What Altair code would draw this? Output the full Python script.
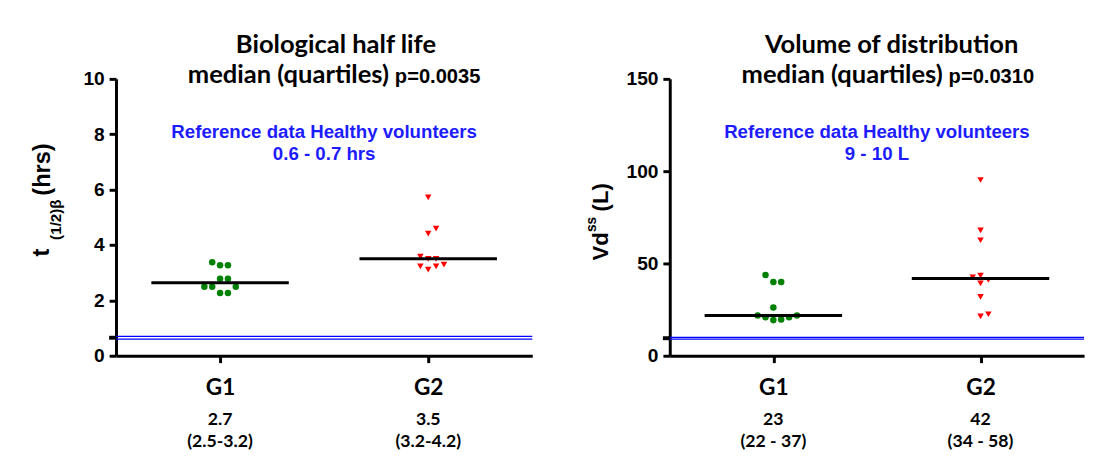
import altair as alt
import pandas as pd
import numpy as np

# ---------------- data ----------------
groups = ["G1", "G2"]

# Panel 1: biological half life (hrs)
hl_g1 = [3.38, 3.27, 3.27, 2.78, 2.78, 2.49, 2.49, 2.49, 2.27, 2.27]
hl_g2 = [5.72, 4.59, 4.41, 3.58, 3.50, 3.50, 3.29, 3.23, 3.23, 3.11]
hl_ref = [0.6, 0.7]
hl_med_lbl = ["2.7", "3.5"]
hl_q_lbl = ["(2.5-3.2)", "(3.2-4.2)"]

# Panel 2: volume of distribution (L)
vd_g1 = [43.8, 39.9, 39.9, 26.1, 21.8, 21.8, 20.9, 20.9, 19.7, 19.3]
vd_g2 = [95.2, 67.9, 62.6, 43.4, 42.5, 41.1, 39.2, 31.9, 22.5, 21.3]
vd_ref = [9, 10]
vd_med_lbl = ["23", "42"]
vd_q_lbl = ["(22 - 37)", "(34 - 58)"]

H = 282
SANS = "Liberation Sans"
CAL = "Lato"


def beeswarm(values, px_per_unit, px_per_x, step=8.0, diam=7.5):
    """simple deterministic beeswarm: returns x offsets in data units"""
    order = np.argsort(values, kind="stable")
    placed = []
    offs = [0.0] * len(values)
    for i in order:
        y = values[i] * px_per_unit
        cands = [0.0]
        for m in range(1, 10):
            cands += [m * step, -m * step]
        for c in cands:
            if all((c - px) ** 2 + (y - py) ** 2 >= diam ** 2 for px, py in placed):
                placed.append((c, y))
                offs[i] = c / px_per_x
                break
    return offs


def panel(g1, g2, ref, ymax, yvals, W, med_lbl, q_lbl, title1, title2, pval,
          ref_txt, split, ytitle_parts):
    ppu = H / ymax
    ppx = W / 4.0
    rows = []
    for gi, (g, vals) in enumerate(zip(groups, [g1, g2])):
        pos = 1 + 2 * gi
        offs = beeswarm(vals, ppu, ppx)
        for v, o in zip(vals, offs):
            rows.append({"group": g, "pos": pos, "xp": pos + o, "value": v})
    df = pd.DataFrame(rows)
    xs = alt.Scale(domain=[0, 4], nice=False, zero=False)
    ys = alt.Scale(domain=[0, ymax], nice=False)

    xaxis = alt.Axis(values=[1, 3], labelExpr="datum.value == 1 ? 'G1' : 'G2'",
                     title=None, grid=False, tickSize=7, tickWidth=3, tickColor="black",
                     domainWidth=3, domainColor="black", labelFont=CAL,
                     labelFontWeight="bold", labelFontSize=23, labelColor="black",
                     labelPadding=14)
    yaxis = alt.Axis(values=yvals, title=None, grid=False, tickSize=7, tickWidth=3,
                     tickColor="black", domainWidth=3, domainColor="black",
                     labelFont=SANS, labelFontWeight="bold", labelFontSize=19.5,
                     labelColor="black", labelPadding=5)

    refdf = pd.DataFrame({"r": ref})
    ref_rules = alt.Chart(refdf).mark_rule(color="#0000ff", strokeWidth=1.2).encode(
        y=alt.Y("r:Q", scale=ys), x=alt.value(0), x2=alt.value(W))
    ref_mark = alt.Chart(refdf).mark_rule(color="black", strokeWidth=4).encode(
        y=alt.Y("mean(r):Q", scale=ys), x=alt.value(-7), x2=alt.value(0))

    pts = alt.Chart(df).mark_point(filled=True, size=44, opacity=1).encode(
        x=alt.X("xp:Q", scale=xs, axis=xaxis),
        y=alt.Y("value:Q", scale=ys, axis=yaxis),
        color=alt.Color("group:N", scale=alt.Scale(domain=groups, range=["#008000", "#ff0000"]), legend=None),
        shape=alt.Shape("group:N", scale=alt.Scale(domain=groups, range=["circle", "triangle-down"]), legend=None),
    )
    med = alt.Chart(df).mark_tick(orient="horizontal", size=140, thickness=3, color="black").encode(
        x=alt.X("pos:Q", scale=xs), y=alt.Y("median(value):Q", scale=ys))

    sdf = pd.DataFrame({"pos": [1, 3], "m": med_lbl, "q": q_lbl})
    s1 = alt.Chart(sdf).mark_text(font=CAL, fontWeight="bold", fontSize=18, color="black",
                                  baseline="middle").encode(
        x=alt.X("pos:Q", scale=xs), y=alt.value(H + 66), text="m:N")
    s2 = alt.Chart(sdf).mark_text(font=CAL, fontWeight="bold", fontSize=18, color="black",
                                  baseline="middle").encode(
        x=alt.X("pos:Q", scale=xs), y=alt.value(H + 88), text="q:N")

    blue = "#1c1cff"
    r1 = alt.Chart().mark_text(text=ref_txt[0], font=SANS, fontWeight="bold", fontSize=19,
                               color=blue, baseline="middle").encode(
        x=alt.value(W / 2), y=alt.value(54))
    r2 = alt.Chart().mark_text(text=ref_txt[1], font=SANS, fontWeight="bold", fontSize=19,
                               color=blue, baseline="middle").encode(
        x=alt.value(W / 2), y=alt.value(77))

    t1 = alt.Chart().mark_text(text=title1, font=CAL, fontWeight="bold", fontSize=26,
                               color="black", baseline="middle").encode(
        x=alt.value(split[0]), y=alt.value(-34))
    t2 = alt.Chart().mark_text(text=title2, font=CAL, fontWeight="bold", fontSize=26,
                               color="black", baseline="middle", align="right").encode(
        x=alt.value(split[1]), y=alt.value(-4))
    t3 = alt.Chart().mark_text(text=pval, font=SANS, fontWeight="bold", fontSize=20.5,
                               color="black", baseline="middle", align="left").encode(
        x=alt.value(split[1] + 6), y=alt.value(-2))

    yt = []
    for txt, fs, xb, ystart in ytitle_parts:
        yt.append(alt.Chart().mark_text(text=txt, font=SANS, fontWeight="bold", fontSize=fs,
                                        color="black", angle=270, align="left",
                                        baseline="alphabetic").encode(
            x=alt.value(xb), y=alt.value(ystart)))

    return alt.layer(ref_rules, pts, med, ref_mark, s1, s2, r1, r2, t1, t2, t3, *yt).properties(
        width=W, height=H)


left = panel(hl_g1, hl_g2, hl_ref, 10, [0, 2, 4, 6, 8, 10], 424, hl_med_lbl, hl_q_lbl,
             "Biological half life", "median (quartiles)", "p=0.0035",
             ["Reference data Healthy volunteers", "0.6 - 0.7 hrs"], (224, 278),
             [("t", 24, -68, 181), ("(1/2)β", 15.5, -56, 164), ("(hrs)", 24, -67, 119)])
right = panel(vd_g1, vd_g2, vd_ref, 150, [0, 50, 100, 150], 422, vd_med_lbl, vd_q_lbl,
              "Volume of distribution", "median (quartiles)", "p=0.0310",
              ["Reference data Healthy volunteers", "9 - 10 L"], (226, 278),
              [("Vd", 22.5, -63, 185), ("ss", 14, -75, 156), ("(L)", 22.5, -63, 135)])

chart = alt.hconcat(left, right, spacing=53).properties(
    padding={"left": 23, "top": 21, "right": 5, "bottom": 5}
).configure_view(stroke=None)

chart.save("out.html", embed_options={"renderer": "svg", "actions": False})
